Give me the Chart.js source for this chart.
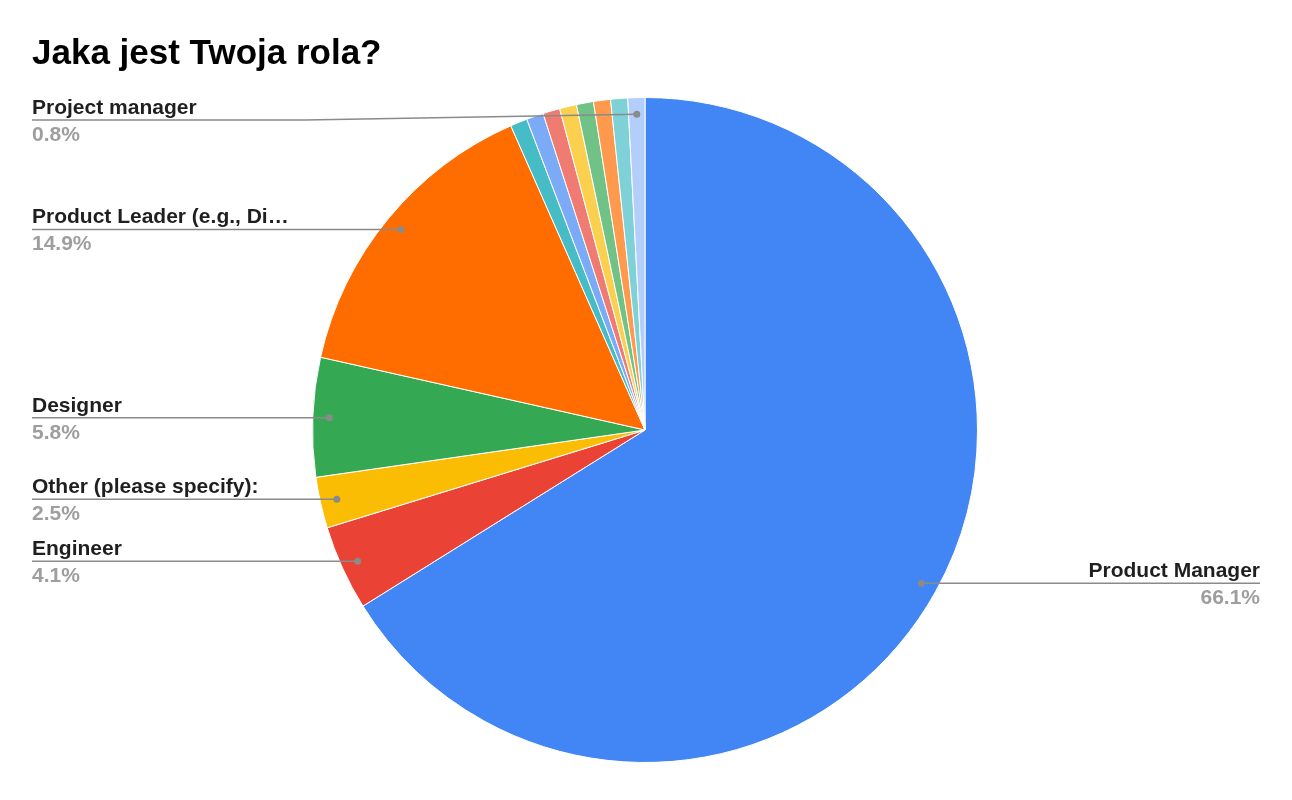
<!DOCTYPE html>
<html>
<head>
<meta charset="utf-8">
<script src="https://cdn.jsdelivr.net/npm/chart.js@4"></script>
<style>
  html, body { margin: 0; padding: 0; background: #fff; }
  #wrap { width: 1292px; height: 800px; position: relative; }
</style>
</head>
<body>
<div id="wrap"><canvas id="myChart" width="1292" height="800"></canvas></div>
<script>
const chartTitle = "Jaka jest Twoja rola?";

const roles = [
  "Product Manager",
  "Engineer",
  "Other (please specify):",
  "Designer",
  "Product Leader (e.g., Di…",
  "Rola 6",
  "Rola 7",
  "Rola 8",
  "Rola 9",
  "Rola 10",
  "Rola 11",
  "Rola 12",
  "Project manager",
];

// answer counts (121 responses)
const counts = [80, 5, 3, 7, 18, 1, 1, 1, 1, 1, 1, 1, 1];

const colors = [
  "#4285f4", "#ea4335", "#fbbc04", "#34a853", "#ff6d01",
  "#46bdc6", "#7baaf7", "#f07b72", "#fcd04f", "#71c287",
  "#ff994d", "#7ed1d7", "#b3cefb",
];

// which slices get an outside label
const labelled = [0, 1, 2, 3, 4, 12];

const total = counts.reduce((a, b) => a + b, 0);

const labelPlugin = {
  id: "sheetLabels",
  afterDraw(chart) {
    const ctx = chart.ctx;
    const meta = chart.getDatasetMeta(0);

    ctx.save();
    ctx.font = "bold 35px 'Liberation Sans', Arial, sans-serif";
    ctx.fillStyle = "#000";
    ctx.textBaseline = "alphabetic";
    ctx.textAlign = "left";
    ctx.fillText(chartTitle, 32, 64);

    labelled.forEach((i) => {
      const arc = meta.data[i];
      const mid = (arc.startAngle + arc.endAngle) / 2;
      const r = arc.outerRadius * 0.95;
      const dx = arc.x + Math.cos(mid) * r;
      const dy = arc.y + Math.sin(mid) * r;
      const right = Math.cos(mid) > 0;
      let ly = dy;
      let bendX = null;
      if (dy < 118) {
        ly = 120;
        bendX = 305;
      }
      const pct = ((counts[i] / total) * 100).toFixed(1) + "%";

      ctx.strokeStyle = "#8a8a8a";
      ctx.lineWidth = 1.5;
      ctx.beginPath();
      if (right) {
        ctx.moveTo(dx, dy);
        ctx.lineTo(1260, ly);
      } else {
        ctx.moveTo(32, ly);
        if (bendX !== null) ctx.lineTo(bendX, ly);
        ctx.lineTo(dx, dy);
      }
      ctx.stroke();

      ctx.fillStyle = "#8a8a8a";
      ctx.beginPath();
      ctx.arc(dx, dy, 3.5, 0, Math.PI * 2);
      ctx.fill();

      ctx.font = "bold 21px 'Liberation Sans', Arial, sans-serif";
      ctx.textAlign = right ? "right" : "left";
      const tx = right ? 1260 : 32;
      ctx.fillStyle = "#1f1f1f";
      ctx.fillText(roles[i], tx, ly - 6);
      ctx.fillStyle = "#9e9e9e";
      ctx.fillText(pct, tx, ly + 21);
    });
    ctx.restore();
  },
};

new Chart(document.getElementById("myChart"), {
  type: "pie",
  data: {
    labels: roles,
    datasets: [
      {
        data: counts,
        backgroundColor: colors,
        borderColor: "#fff",
        borderWidth: 1,
      },
    ],
  },
  options: {
    responsive: false,
    animation: false,
    layout: { padding: { top: 97, bottom: 37, left: 312, right: 314 } },
    plugins: {
      legend: { display: false },
      tooltip: { enabled: false },
      title: { display: false },
    },
  },
  plugins: [labelPlugin],
});
</script>
</body>
</html>
